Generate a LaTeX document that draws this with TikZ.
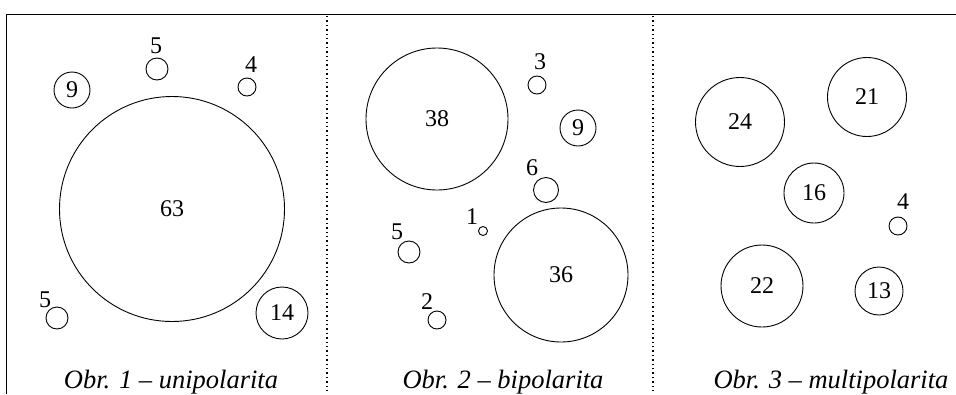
\documentclass[tikz,border=0pt]{standalone}
\usepackage{fontspec}
\setmainfont{Liberation Serif}
\begin{document}
\begin{tikzpicture}[x=1pt,y=-1pt,
  ring/.style={circle,draw,line width=0.9pt,inner sep=0pt,minimum size=#1,font=\fontsize{24}{28}\selectfont},
  num/.style={inner sep=0pt,font=\fontsize{24}{28}\selectfont},
  figcaption/.style={inner sep=0pt,anchor=base,font=\fontsize{26.5}{32}\selectfont\itshape},
  sepline/.style={line width=1.4pt,dash pattern=on 1.4pt off 3pt}]
\useasboundingbox (0,0) rectangle (956,394);
% frame
\coordinate (tl) at (6.5,14.5);
\coordinate (tr) at (956,14.5);
\coordinate (bl) at (6.5,394);
\draw[line width=1.8pt] (bl) -- (tl) -- (tr);
\coordinate (d1t) at (327,16);
\coordinate (d1b) at (327,394);
\coordinate (d2t) at (653,16);
\coordinate (d2b) at (653,394);
\draw[sepline] (d1t) -- (d1b);
\draw[sepline] (d2t) -- (d2b);
% panel 1
\node[ring=36pt] (p1a) at (72,90) {9};
\node[ring=22pt] (p1b) at (157,69) {};
\node[num] (p1bl) at (156,46) {5};
\node[ring=18pt] (p1c) at (247,87) {};
\node[num] (p1cl) at (251,65) {4};
\node[ring=225pt] (p1d) at (172,209) {63};
\node[ring=22pt] (p1e) at (57,318) {};
\node[num] (p1el) at (45,300) {5};
\node[ring=52pt] (p1f) at (282,313) {14};
\node[figcaption] (c1) at (171,388) {Obr. 1 – unipolarita};
% panel 2
\node[ring=142pt] (p2a) at (437,119) {38};
\node[ring=18pt] (p2b) at (537,85) {};
\node[num] (p2bl) at (540,62) {3};
\node[ring=36pt] (p2c) at (578,128) {9};
\node[ring=25pt] (p2d) at (546,190) {};
\node[num] (p2dl) at (532,168) {6};
\node[ring=9pt] (p2e) at (483,231) {};
\node[num] (p2el) at (472,217) {1};
\node[ring=22pt] (p2f) at (409,252) {};
\node[num] (p2fl) at (397,232) {5};
\node[ring=18pt] (p2g) at (437,320) {};
\node[num] (p2gl) at (427,302) {2};
\node[ring=134pt] (p2h) at (561,275) {36};
\node[figcaption] (c2) at (503,388) {Obr. 2 – bipolarita};
% panel 3
\node[ring=89pt] (p3a) at (740,122) {24};
\node[ring=79pt] (p3b) at (867,97) {21};
\node[ring=60pt] (p3c) at (814,193) {16};
\node[ring=18pt] (p3d) at (898,226) {};
\node[num] (p3dl) at (903,202) {4};
\node[ring=82pt] (p3e) at (762,286) {22};
\node[ring=48pt] (p3f) at (879,291) {13};
\node[figcaption] (c3) at (831,388) {Obr. 3 – multipolarita};
\end{tikzpicture}
\end{document}
